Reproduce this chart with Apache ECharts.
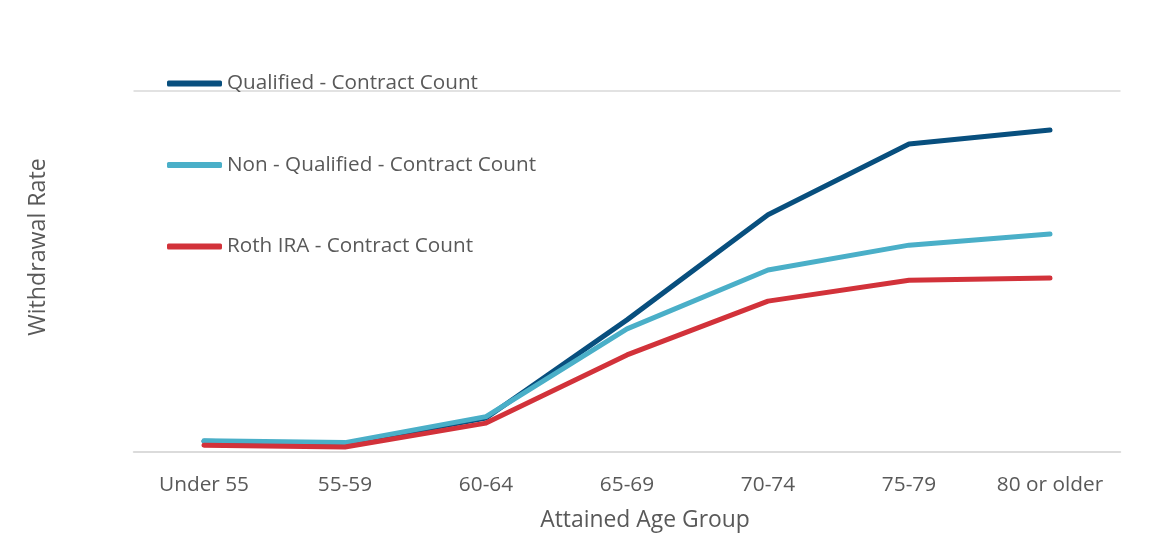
<!DOCTYPE html>
<html style="height: 100%">
<head>
    <meta charset="utf-8">
    <script src="https://cdn.jsdelivr.net/npm/echarts@6/dist/echarts.min.js"></script>
</head>
<body style="height: 100%; margin: 0; background: #fff">
    <div id="main" style="width:1149px; height:537px;"></div>
    <script type="text/javascript">
    // age bands on the x axis
    var ageGroups = ['Under 55', '55-59', '60-64', '65-69', '70-74', '75-79', '80 or older'];
    // withdrawal rate, relative scale (no labels on the original axis)
    var qualified = [3.0, 2.2, 9.4, 36.6, 65.7, 85.3, 89.2];
    var nonQualified = [3.1, 2.6, 9.8, 34.1, 50.4, 57.3, 60.4];
    var rothIra = [1.9, 1.4, 8.0, 26.9, 41.8, 47.6, 48.2];

    var font = '"Open Sans", "Segoe UI", sans-serif';
    var gray = '#595959';

    var myChart = echarts.init(document.getElementById('main'));

    function line(name, data, color) {
        return {
            name: name,
            type: 'line',
            data: data,
            symbol: 'none',
            smooth: false,
            lineStyle: { width: 5, color: color, cap: 'round', join: 'round' },
            itemStyle: { color: color },
            animation: false
        };
    }

    var option = {
        backgroundColor: '#fff',
        textStyle: { fontFamily: font },
        legend: {
            orient: 'vertical',
            left: 167,
            top: 73,
            padding: 0,
            itemGap: 60.5,
            itemWidth: 55,
            itemHeight: 6,
            icon: 'roundRect',
            textStyle: { fontSize: 20.7, color: gray, fontFamily: font, lineHeight: 20 },
            data: ['Qualified - Contract Count', 'Non - Qualified - Contract Count', 'Roth IRA - Contract Count']
        },
        grid: { left: 133.5, right: 28.5, top: 91, bottom: 85 },
        xAxis: {
            type: 'category',
            data: ageGroups,
            boundaryGap: true,
            axisLine: { show: true, lineStyle: { color: '#d9d9d9', width: 1.5 } },
            axisTick: { show: false },
            axisLabel: { color: gray, fontSize: 20.8, margin: 23, fontFamily: font },
            name: 'Attained Age Group',
            nameLocation: 'middle',
            nameGap: 57,
            nameTextStyle: { color: gray, fontSize: 22.9, fontFamily: font, padding: [0, 0, 0, 36] }
        },
        yAxis: {
            type: 'value',
            min: 0,
            max: 100,
            interval: 100,
            axisLine: { show: false },
            axisTick: { show: false },
            axisLabel: { show: false },
            splitLine: { lineStyle: { color: '#d9d9d9', width: 1.5 } }
        },
        graphic: [{
            type: 'text',
            x: 38,
            y: 247,
            rotation: Math.PI / 2,
            style: {
                text: 'Withdrawal Rate',
                fill: gray,
                fontSize: 23.2,
                fontFamily: font,
                align: 'center',
                verticalAlign: 'middle'
            }
        }],
        series: [
            line('Qualified - Contract Count', qualified, '#084f7e'),
            line('Non - Qualified - Contract Count', nonQualified, '#4aafc8'),
            line('Roth IRA - Contract Count', rothIra, '#d2323a')
        ]
    };
    myChart.setOption(option);
    </script>
</body>
</html>
